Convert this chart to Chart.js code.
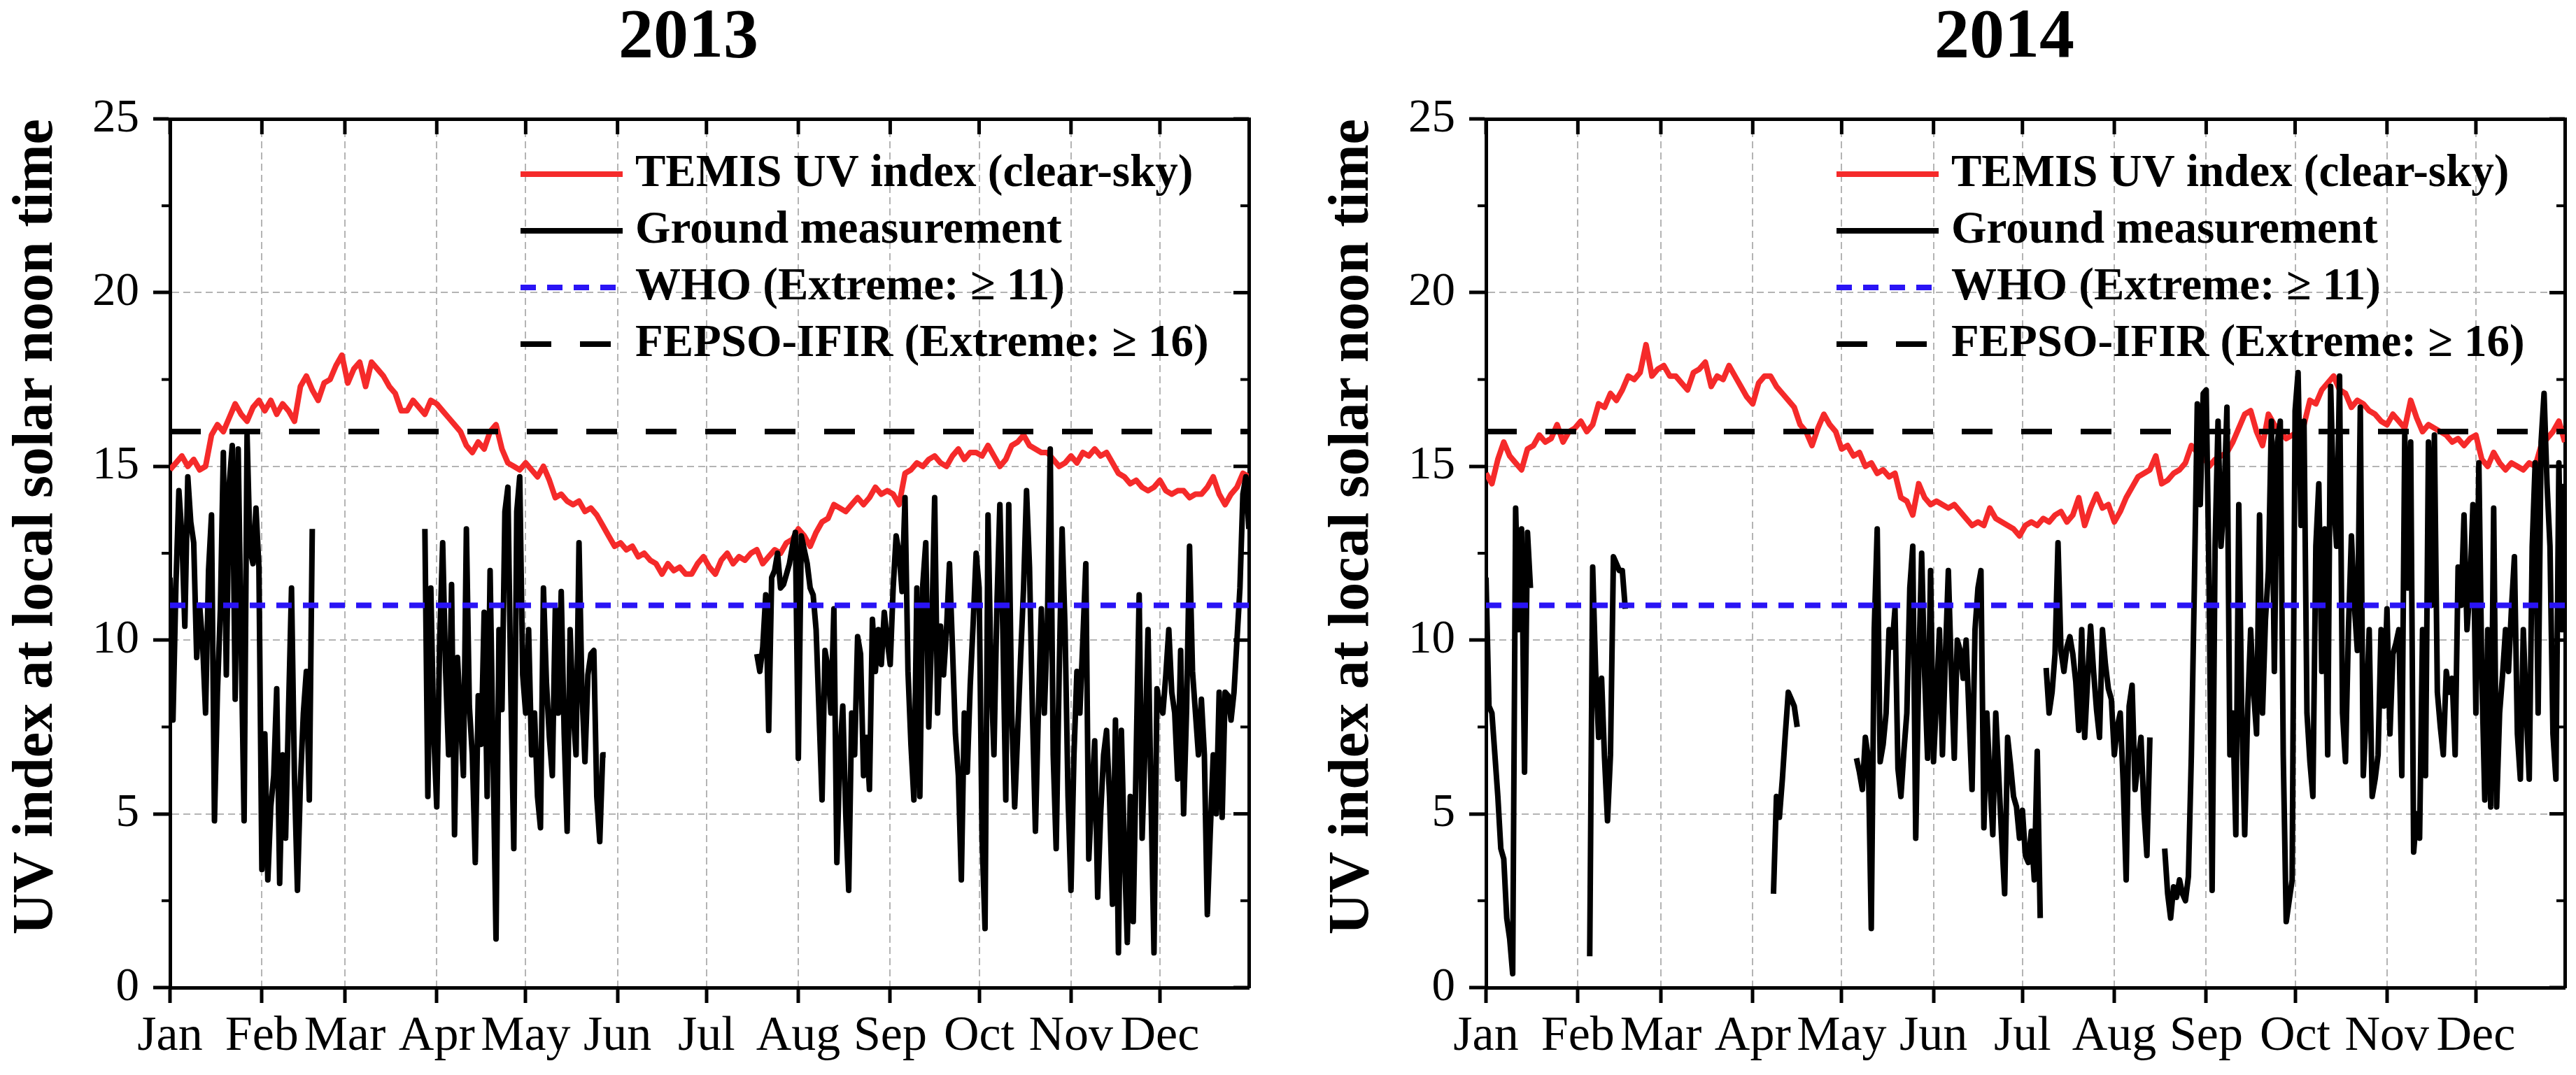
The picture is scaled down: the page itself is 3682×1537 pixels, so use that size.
<!DOCTYPE html>
<html>
<head>
<meta charset="utf-8">
<script src="https://cdn.jsdelivr.net/npm/chart.js"></script>
<style>
  html, body { margin:0; padding:0; background:#fff; overflow:hidden; }
  body { width:3682px; height:1537px; position:relative; }
  canvas { position:absolute; top:0; }
</style>
</head>
<body>
<canvas id="c2013" width="1968" height="1537" style="left:0px"></canvas>
<canvas id="c2014" width="1968" height="1537" style="left:1881px"></canvas>
<script>
// ---------------- DATA ----------------
const monthNames  = ['Jan','Feb','Mar','Apr','May','Jun','Jul','Aug','Sep','Oct','Nov','Dec'];
const monthStarts = [1, 32, 60, 91, 121, 152, 182, 213, 244, 274, 305, 335];
const dayMin = 1, dayMax = 365;
const temisStep = 2;            // TEMIS values read every 2nd day, starting Jan 1
const whoLevel = 11;
const fepsoLevel = 16;

const temis2013 = [
 14.9,15.1,15.3,15.0,15.2,14.9,15.0,15.9,16.2,16.0,
 16.4,16.8,16.5,16.3,16.7,16.9,16.6,16.9,16.5,16.8,
 16.6,16.3,17.3,17.6,17.2,16.9,17.4,17.5,17.9,18.2,
 17.4,17.8,18.0,17.3,18.0,17.8,17.6,17.3,17.1,16.6,
 16.6,16.9,16.7,16.5,16.9,16.8,16.6,16.4,16.2,16.0,
 15.6,15.4,15.7,15.5,16.0,16.2,15.5,15.1,15.0,14.9,
 15.1,14.9,14.7,15.0,14.6,14.1,14.2,14.0,13.9,14.0,
 13.7,13.8,13.6,13.3,13.0,12.7,12.8,12.6,12.7,12.4,
 12.5,12.3,12.2,11.9,12.2,12.0,12.1,11.9,11.9,12.2,
 12.4,12.1,11.9,12.3,12.5,12.2,12.4,12.3,12.5,12.6,
 12.2,12.4,12.6,12.5,12.8,12.9,13.2,13.0,12.7,13.1,
 13.4,13.5,13.9,13.8,13.7,13.9,14.1,13.9,14.1,14.4,
 14.2,14.3,14.2,13.9,14.8,14.9,15.1,15.0,15.2,15.3,
 15.1,15.0,15.3,15.5,15.2,15.4,15.4,15.3,15.6,15.3,
 15.0,15.2,15.6,15.7,15.9,15.6,15.5,15.4,15.4,15.2,
 15.0,15.1,15.3,15.1,15.4,15.3,15.5,15.3,15.4,15.1,
 14.8,14.7,14.5,14.6,14.4,14.3,14.4,14.6,14.3,14.2,
 14.3,14.3,14.1,14.2,14.2,14.4,14.7,14.2,13.9,14.2,
 14.4,14.8,14.7
];

const temis2014 = [
 14.8,14.5,15.2,15.7,15.3,15.1,14.9,15.5,15.6,15.9,
 15.7,15.8,16.2,15.7,16.0,16.1,16.3,16.0,16.2,16.8,
 16.7,17.1,16.9,17.2,17.6,17.5,17.7,18.5,17.6,17.8,
 17.9,17.6,17.6,17.4,17.2,17.7,17.8,18.0,17.3,17.6,
 17.5,17.9,17.6,17.3,17.0,16.8,17.4,17.6,17.6,17.3,
 17.1,16.9,16.7,16.2,16.0,15.6,16.1,16.5,16.2,16.0,
 15.5,15.6,15.3,15.4,15.0,15.1,14.8,14.9,14.7,14.8,
 14.1,14.0,13.6,14.5,14.1,13.9,14.0,13.9,13.8,13.9,
 13.7,13.5,13.3,13.4,13.3,13.8,13.5,13.4,13.3,13.2,
 13.0,13.3,13.4,13.3,13.5,13.4,13.6,13.7,13.4,13.6,
 14.1,13.3,13.8,14.2,13.8,13.9,13.4,13.7,14.1,14.4,
 14.7,14.8,14.9,15.3,14.5,14.6,14.8,14.9,15.1,15.6,
 15.4,15.3,15.0,15.2,15.3,15.4,15.7,16.1,16.5,16.6,
 16.0,15.6,16.5,16.2,16.0,15.8,15.9,16.0,16.2,16.9,
 16.8,17.2,17.4,17.6,17.2,17.1,16.7,16.9,16.8,16.6,
 16.5,16.3,16.2,16.5,16.3,16.1,16.9,16.4,16.0,16.2,
 16.1,16.0,15.9,15.7,15.8,15.6,15.8,15.9,15.2,15.0,
 15.4,15.1,14.9,15.1,15.0,14.9,15.1,15.0,15.6,15.8,
 16.0,16.3,15.7
];

// Ground measurements: daily values, in separate runs (gaps between runs)
const ground2013Starts = [1, 87, 199];
const ground2013Jan = [
 11.8,7.7,11.6,14.3,13.0,10.4,14.7,13.4,12.8,9.5,
 11.0,9.9,7.9,12.0,13.6,4.8,8.5,10.9,15.4,9.0,
 14.5,15.6,8.3,15.5,10.0,4.8,15.9,12.6,12.2,13.8,
 12.1,3.4,7.3,3.1,5.2,6.1,8.6,3.0,6.7,4.3,
 8.0,11.5,6.0,2.8,5.9,7.9,9.1,5.4,13.2
];
const ground2013Mar = [
 13.2,5.5,11.5,7.3,5.2,10.0,12.8,9.1,6.7,11.6,
 4.4,9.5,7.8,6.1,13.2,8.1,6.7,3.6,8.4,7.0,
 10.8,5.5,12.0,6.7,1.4,10.3,8.0,13.7,14.4,8.5,
 4.0,13.7,14.7,9.0,7.9,10.3,6.7,7.9,5.5,4.6,
 11.5,8.8,7.2,6.1,10.9,7.9,11.4,7.3,4.5,10.3,
 8.0,6.7,12.8,8.5,6.5,9.0,9.6,9.7,5.5,4.2,
 6.7,6.7
];
const ground2013Jul = [
 9.6,9.1,9.8,11.3,7.4,11.8,12.0,12.5,11.5,11.6,
 11.9,12.2,12.7,13.1,6.6,13.0,12.6,12.2,11.5,11.3,
 10.3,7.9,5.4,9.7,9.2,7.9,10.9,3.6,6.7,8.1,
 5.0,2.8,7.9,6.7,10.1,9.6,6.1,7.2,5.7,10.6,
 9.1,10.3,9.3,10.8,10.0,9.3,11.5,13.0,12.5,11.4,
 14.1,9.1,7.0,5.4,11.5,5.5,11.6,12.8,7.5,10.2,
 14.1,7.9,10.4,9.0,10.3,12.2,9.8,7.3,6.1,3.1,
 7.9,6.2,8.7,10.5,12.5,11.5,4.3,1.7,13.6,9.1,
 6.7,11.0,13.9,10.3,5.4,13.9,7.9,5.2,7.3,9.5,
 11.5,14.3,12.1,7.9,4.5,8.0,10.9,7.9,10.3,15.5,
 6.7,4.0,9.0,13.2,10.3,5.5,2.8,6.7,9.1,7.9,
 10.0,12.2,3.7,5.5,7.1,2.6,5.0,6.7,7.4,5.5,
 2.4,7.7,1.0,7.4,4.0,1.3,5.5,1.9,6.7,11.3,
 4.3,7.0,10.3,5.5,1.0,8.6,8.1,7.9,9.0,10.3,
 8.5,7.9,6.0,9.7,5.0,8.0,12.7,9.1,7.9,6.7,
 8.3,6.7,2.1,4.5,6.7,5.0,8.5,4.9,8.5,8.4,
 7.7,8.5,10.0,11.5,14.2,14.7,13.2
];

const ground2014Starts = [1, 36, 98, 126, 190, 230];
const ground2014Jan = [11.8,8.1,7.9,6.7,5.5,4.0,3.7,2.0,1.4,0.4,13.8,10.3,13.2,6.2,13.1,11.5];
const ground2014Feb = [0.9,12.1,9.1,7.2,8.9,6.6,4.8,6.7,12.4,12.2,12.0,12.0,10.9];
const ground2014Apr = [2.7,5.5,4.9,6.0,7.3,8.5,8.3,8.1,7.5];
const ground2014May = [
 6.6,6.2,5.7,7.2,6.6,1.7,10.3,13.2,6.5,7.0,
 7.9,10.3,9.8,10.9,6.3,5.5,6.8,7.9,11.5,12.7,
 4.3,9.1,12.5,9.0,6.6,12.0,
 6.5,8.3,10.3,6.7,9.5,12.0,9.1,6.6,10.0,9.7,
 8.9,10.0,7.8,5.7,10.3,11.5,12.0,4.6,7.9,6.0,
 4.4,7.9,6.1,4.3,2.7,7.2,6.4,5.5,5.2,4.3,
 5.1,3.8,3.6,4.5,3.1,6.8,2.0
];
const ground2014Jul = [
 9.2,7.9,8.5,9.6,12.8,9.7,9.1,9.8,10.1,9.6,
 8.8,7.4,10.3,7.2,8.9,10.4,9.1,8.0,7.2,10.3,
 9.3,8.6,8.3,6.7,7.5,7.9,5.9,3.1,8.1,8.7,
 5.7,6.5,7.2,5.1,3.8,7.2
];
const ground2014Aug = [
 4.0,2.7,2.0,2.9,2.6,3.1,2.7,2.5,3.2,6.7,
 11.5,16.8,13.9,17.1,17.2,11.5,2.8,12.7,16.3,12.7,
 14.0,16.7,6.7,7.9,4.4,13.9,7.9,4.4,8.0,10.3,
 8.5,7.3,13.6,7.9,10.6,12.0,16.3,9.1,15.7,16.3,
 6.7,1.9,2.5,3.1,16.6,17.7,13.3,16.3,7.9,6.5,
 5.5,12.7,14.5,9.1,13.2,6.7,17.3,14.0,12.7,17.6,
 7.9,6.5,10.3,13.0,11.0,9.7,16.7,6.1,7.9,10.3,
 5.5,6.0,6.7,10.3,8.1,10.9,7.3,9.6,9.9,10.3,
 6.1,15.9,11.5,15.7,3.9,5.0,4.3,10.3,6.1,15.7,
 11.0,15.9,8.5,7.5,6.7,9.1,8.5,8.9,6.7,12.1,
 11.0,13.6,10.3,11.5,13.9,7.9,15.1,9.0,5.4,10.3,
 5.2,13.8,5.2,7.9,9.0,10.3,9.1,10.9,12.4,7.3,
 6.0,10.3,8.0,6.0,12.7,15.1,7.9,15.7,17.1,14.5,
 12.7,7.3,6.0,15.1,10.3,14.5
];

const seriesLabels = ['TEMIS UV index (clear-sky)', 'Ground measurement', 'WHO (Extreme: \u2265 11)', 'FEPSO-IFIR (Extreme: \u2265 16)'];
const yAxisTitle = 'UV index at local solar noon time';

// ---------------- BUILDERS ----------------
const FONT = "'Liberation Serif', 'Times New Roman', Times, serif";

function temisPoints(vals) {
  return vals.map((v, i) => ({x: dayMin + i * temisStep, y: v}));
}
function groundPoints(starts, runs) {
  const pts = [];
  runs.forEach((vals, r) => {
    if (r > 0) pts.push({x: starts[r] - 0.5, y: null});
    vals.forEach((v, i) => pts.push({x: starts[r] + i, y: v}));
  });
  return pts;
}
function levelPoints(level) {
  return [{x: dayMin, y: level}, {x: dayMax, y: level}];
}

const frameTicks = {
  id: 'frameTicks',
  afterDatasetsDraw(chart) {
    const {ctx, chartArea: a, scales} = chart;
    const x = scales.x, y = scales.y;
    ctx.save();
    ctx.strokeStyle = '#000';
    ctx.lineCap = 'butt';
    const line = (x1, y1, x2, y2) => { ctx.beginPath(); ctx.moveTo(x1, y1); ctx.lineTo(x2, y2); ctx.stroke(); };
    ctx.lineWidth = 5;
    x.ticks.forEach(t => { const p = x.getPixelForValue(t.value); line(p, a.top, p, a.top + 22); });
    y.ticks.forEach(t => { const p = y.getPixelForValue(t.value); line(a.right - 22, p, a.right, p); });
    ctx.lineWidth = 4;
    for (let i = 0; i < y.ticks.length - 1; i++) {
      const p = y.getPixelForValue((y.ticks[i].value + y.ticks[i + 1].value) / 2);
      line(a.left - 12, p, a.left, p);
      line(a.right - 12, p, a.right, p);
    }
    ctx.restore();
  }
};

const insideLegend = {
  id: 'insideLegend',
  afterDatasetsDraw(chart) {
    const {ctx, chartArea: a} = chart;
    chart.data.datasets.forEach((ds, i) => {
      const yy = a.top + 79 + i * 81;
      const x0 = a.left + 501;
      ctx.save();
      ctx.strokeStyle = ds.borderColor;
      ctx.lineWidth = ds.borderWidth;
      ctx.lineCap = 'butt';
      ctx.setLineDash(ds.borderDash || []);
      ctx.beginPath(); ctx.moveTo(x0, yy); ctx.lineTo(x0 + 146, yy); ctx.stroke();
      ctx.setLineDash([]);
      ctx.font = "bold 65px " + FONT;
      ctx.fillStyle = '#000';
      ctx.textBaseline = 'middle';
      ctx.textAlign = 'left';
      ctx.fillText(ds.label, x0 + 164, yy);
      ctx.restore();
    });
  }
};

function makeChart(id, title, temis, gStarts, gRuns) {
  const gridCommon = {color: '#b4b4b4', lineWidth: 2, tickWidth: 5, tickColor: '#000'};
  const borderCommon = {display: true, color: '#000', width: 5, dash: [10, 6]};
  return new Chart(document.getElementById(id), {
    type: 'line',
    data: {
      datasets: [
        {label: seriesLabels[0], data: temisPoints(temis), borderColor: '#f52a2a', borderWidth: 8,
         pointRadius: 0, borderJoinStyle: 'round', order: 4},
        {label: seriesLabels[1], data: groundPoints(gStarts, gRuns), borderColor: '#000000', borderWidth: 8,
         pointRadius: 0, borderJoinStyle: 'round', spanGaps: false, order: 3},
        {label: seriesLabels[2], data: levelPoints(whoLevel), borderColor: '#2a14f5', borderWidth: 8,
         borderDash: [22, 16], pointRadius: 0, order: 1},
        {label: seriesLabels[3], data: levelPoints(fepsoLevel), borderColor: '#000000', borderWidth: 8,
         borderDash: [44, 41], pointRadius: 0, order: 2}
      ]
    },
    options: {
      responsive: false,
      animation: false,
      devicePixelRatio: 1,
      events: [],
      layout: {padding: 0},
      plugins: {
        legend: {display: false},
        tooltip: {enabled: false},
        title: {display: true, text: title, color: '#000',
                font: {family: FONT, size: 100, weight: 'bold', lineHeight: 1},
                padding: {top: 5, bottom: 65}}
      },
      scales: {
        x: {
          type: 'linear', position: 'bottom', min: dayMin, max: dayMax,
          afterBuildTicks: (axis) => { axis.ticks = monthStarts.map(v => ({value: v})); },
          afterFit: (s) => { s.height = 125; },
          ticks: {autoSkip: false, maxRotation: 0, minRotation: 0, color: '#000', padding: 7,
                  font: {family: FONT, size: 70},
                  callback: (v) => monthNames[monthStarts.indexOf(v)]},
          grid: Object.assign({tickLength: 22}, gridCommon),
          border: borderCommon
        },
        x2: {
          type: 'linear', position: 'top', min: dayMin, max: dayMax,
          afterFit: (s) => { s.height = 0; },
          ticks: {display: false},
          grid: {drawOnChartArea: false, drawTicks: false},
          border: {display: true, color: '#000', width: 5}
        },
        y: {
          type: 'linear', position: 'left', min: 0, max: 25,
          afterFit: (s) => { s.width = 243; },
          ticks: {stepSize: 5, color: '#000', padding: 20, font: {family: FONT, size: 67}},
          grid: Object.assign({tickLength: 24}, gridCommon),
          border: borderCommon,
          title: {display: true, text: yAxisTitle, align: 'end', color: '#000',
                  font: {family: FONT, size: 82, weight: 'bold'},
                  padding: {top: 4, bottom: 0}}
        },
        y2: {
          type: 'linear', position: 'right', min: 0, max: 25,
          afterFit: (s) => { s.width = 183; },
          ticks: {display: false},
          grid: {drawOnChartArea: false, drawTicks: false},
          border: {display: true, color: '#000', width: 5}
        }
      }
    },
    plugins: [frameTicks, insideLegend]
  });
}

makeChart('c2013', '2013', temis2013, ground2013Starts, [ground2013Jan, ground2013Mar, ground2013Jul]);
makeChart('c2014', '2014', temis2014, ground2014Starts,
          [ground2014Jan, ground2014Feb, ground2014Apr, ground2014May, ground2014Jul, ground2014Aug]);
</script>
</body>
</html>
